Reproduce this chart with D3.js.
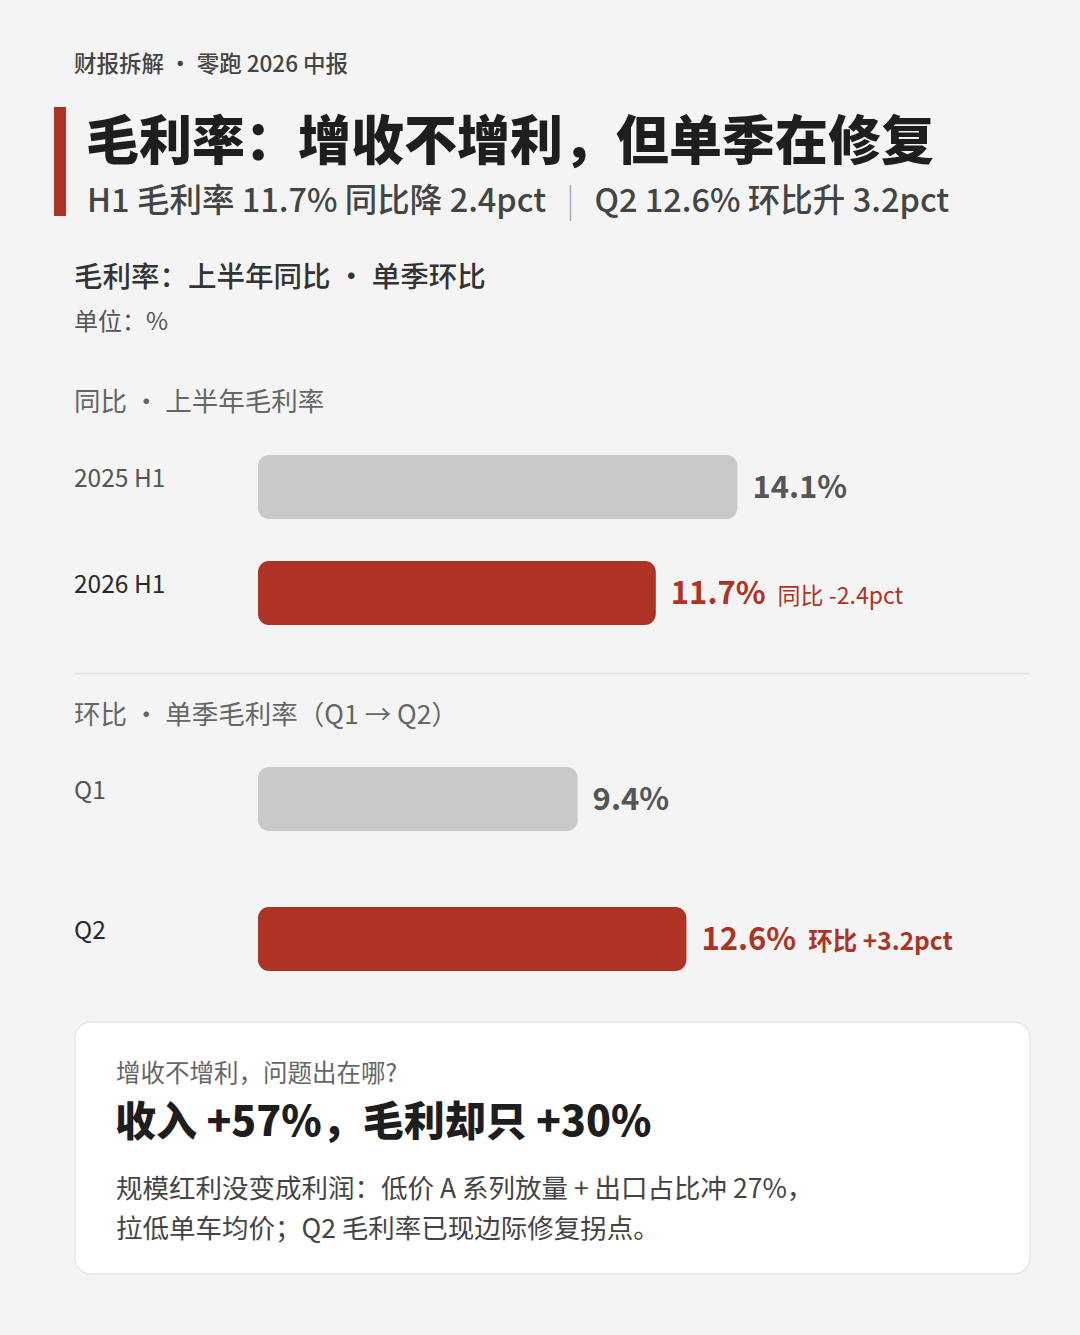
<!DOCTYPE html>
<html><head><meta charset="utf-8">
<script src="https://cdn.jsdelivr.net/npm/d3@7"></script>
<style>
html,body{margin:0;padding:0;background:#f4f4f4;}
svg{display:block;font-family:"Noto Sans CJK SC","Noto Sans",sans-serif;}
</style></head><body>
<script>
const yoyCategories = ["2025 H1", "2026 H1"];
const yoyValues = [14.1, 11.7];
const yoyNotes = ["", "同比 -2.4pct"];
const qoqCategories = ["Q1", "Q2"];
const qoqValues = [9.4, 12.6];
const qoqNotes = ["", "环比 +3.2pct"];

const W = 1080, H = 1335;
const svg = d3.select("body").append("svg").attr("width", W).attr("height", H);
svg.append("rect").attr("width", W).attr("height", H).attr("fill", "#f4f4f4");

const red = "#ae3325", gray = "#c9c9cc";

// header
svg.append("text").attr("x", 74).attr("y", 72).attr("font-size", 22.5).attr("fill", "#444").attr("font-weight", 500)
  .text("财报拆解 · 零跑 2026 中报");
svg.append("rect").attr("x", 54).attr("y", 107).attr("width", 12).attr("height", 109).attr("fill", red);
svg.append("text").attr("x", 86).attr("y", 160).attr("font-size", 53).attr("font-weight", 900).attr("fill", "#1e1e1e")
  .text("毛利率：增收不增利，但单季在修复");
const sub = svg.append("text").attr("x", 87).attr("y", 212).attr("font-size", 32.5).attr("fill", "#444").attr("font-weight", 500);
sub.append("tspan").text("H1 毛利率 11.7% 同比降 2.4pct");
sub.append("tspan").attr("dx", 20).attr("fill", "#aaa").attr("font-weight", 300).text("|");
sub.append("tspan").attr("dx", 20).text("Q2 12.6% 环比升 3.2pct");

svg.append("text").attr("x", 74).attr("y", 287).attr("font-size", 28.5).attr("fill", "#333").attr("font-weight", 500)
  .text("毛利率：上半年同比 · 单季环比");
svg.append("text").attr("x", 74).attr("y", 330).attr("font-size", 24).attr("fill", "#555")
  .text("单位：%");

svg.append("text").attr("x", 74).attr("y", 411).attr("font-size", 26.5).attr("fill", "#666")
  .text("同比 · 上半年毛利率");
svg.append("text").attr("x", 74).attr("y", 724).attr("font-size", 26.5).attr("fill", "#666")
  .text("环比 · 单季毛利率（Q1 → Q2）");

svg.append("line").attr("x1", 74).attr("x2", 1030).attr("y1", 673.5).attr("y2", 673.5).attr("stroke", "#e0e0e0").attr("stroke-width", 1.5);

const x = d3.scaleLinear().domain([0, 15]).range([258, 768]);

function drawGroup(cats, vals, notes, yCenters, labelColors) {
  const y = d3.scaleOrdinal().domain(cats).range(yCenters);
  const g = svg.append("g");
  const bh = 64;
  cats.forEach((c, i) => {
    const hi = i === cats.length - 1;
    const cy = y(c);
    g.append("text").attr("x", 74).attr("y", cy + 8)
      .attr("font-size", 24.5).attr("fill", labelColors[i]).attr("font-weight", 400)
      .text(c);
    g.append("rect").attr("x", x(0)).attr("y", cy + 8 - bh / 2).attr("width", x(vals[i]) - x(0)).attr("height", bh)
      .attr("rx", 11).attr("fill", hi ? red : gray);
    const t = g.append("text").attr("x", x(vals[i]) + 15).attr("y", cy + 8 + 11)
      .attr("font-size", 31).attr("font-weight", 700).attr("fill", hi ? red : "#555");
    t.append("tspan").text(d3.format(".1f")(vals[i]) + "%");
    if (notes[i]) {
      const bold = notes[i].startsWith("环");
      t.append("tspan").attr("dx", 12).attr("font-size", bold ? 24.5 : 23)
        .attr("font-weight", bold ? 700 : 400).text(notes[i]);
    }
  });
}
drawGroup(yoyCategories, yoyValues, yoyNotes, [479, 585], ["#555", "#2a2a2a"]);
drawGroup(qoqCategories, qoqValues, qoqNotes, [791, 931], ["#555", "#2a2a2a"]);

// card
svg.append("rect").attr("x", 75).attr("y", 1022).attr("width", 955).attr("height", 252).attr("rx", 16)
  .attr("fill", "#fff").attr("stroke", "#e8e8e8").attr("stroke-width", 1.5);
svg.append("text").attr("x", 116).attr("y", 1082).attr("font-size", 24.5).attr("fill", "#666").text("增收不增利，问题出在哪?");
svg.append("text").attr("x", 115).attr("y", 1136).attr("font-size", 41).attr("font-weight", 900).attr("fill", "#1e1e1e")
  .text("收入 +57%，毛利却只 +30%");
svg.append("text").attr("x", 116).attr("y", 1198).attr("font-size", 26.5).attr("fill", "#444")
  .text("规模红利没变成利润：低价 A 系列放量 + 出口占比冲 27%，");
svg.append("text").attr("x", 116).attr("y", 1238).attr("font-size", 26.5).attr("fill", "#444")
  .text("拉低单车均价；Q2 毛利率已现边际修复拐点。");
</script>
</body></html>
